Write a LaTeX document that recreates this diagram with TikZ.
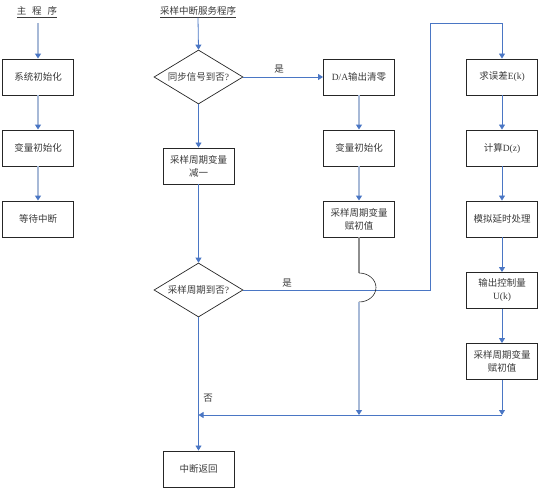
\documentclass[tikz,border=0pt]{standalone}
\usepackage{fontspec}
\setmainfont{Liberation Serif}
\newfontfamily\cjkfont{Noto Sans CJK SC}
\newcommand\zhtxt[1]{{\cjkfont #1}}
\usetikzlibrary{arrows.meta,shapes.geometric}
\definecolor{dblue}{HTML}{4A76C4}
\definecolor{lblue}{HTML}{A7B9D7}
\definecolor{gline}{HTML}{8E8E8E}
\definecolor{txt}{HTML}{3A3A3A}
\tikzset{
  x=1pt,y=-1pt,
  stepbox/.style={draw=black!85, line width=0.9pt, minimum width=71pt, minimum height=36pt,
    align=center, inner sep=1pt, text=txt, font=\fontsize{9.5}{13}\selectfont},
  decide/.style={diamond, draw=black!85, line width=0.7pt, minimum width=89pt, minimum height=54pt,
    aspect=1.65, inner sep=0pt, text=txt, font=\fontsize{9.5}{12}\selectfont},
  lbl/.style={text=txt, font=\fontsize{9.5}{12}\selectfont, inner sep=0pt},
  tip/.style={-{Triangle[width=6pt,length=5pt,color=dblue]}},
  dk/.style={draw=dblue, line width=0.8pt},
  lt/.style={draw=lblue, line width=1.8pt},
}
\begin{document}
\begin{tikzpicture}
\useasboundingbox (0,0) rectangle (540,489);
% titles
\node[lbl] (t1) at (37,12) {\underline{\zhtxt{主\hspace{6pt}程\hspace{6pt}序}}};
\node[lbl] (t2) at (198,12) {\underline{\zhtxt{采样中断服务程序}}};
% left column
\coordinate (c0) at (38,23);
\node[stepbox] (a1) at (38,77) {\zhtxt{系统初始化}};
\node[stepbox] (a2) at (38,148) {\zhtxt{变量初始化}};
\node[stepbox] (a3) at (38,219) {\zhtxt{等待中断}};
\draw[lt,tip] (c0) -- (a1.north);
\draw[lt,tip] (a1) -- (a2);
\draw[lt,tip] (a2) -- (a3);
% second column
\node[decide] (d1) at (198.5,77) {\zhtxt{同步信号到否}?};
\node[stepbox] (b1) at (198.5,166) {\zhtxt{采样周期变量}\\\zhtxt{减一}};
\node[decide] (d2) at (198.5,290) {\zhtxt{采样周期到否}?};
\node[stepbox] (b2) at (198.5,469) {\zhtxt{中断返回}};
\draw[dk,tip] (t2.south) -- (d1.north);
\draw[dk,tip] (d1) -- (b1);
\draw[dk,tip] (b1) -- (d2);
\draw[dk,tip] (d2) -- (b2);
% third column
\node[stepbox] (c1) at (359,77) {D/A\zhtxt{输出清零}};
\node[stepbox] (c2) at (359,148) {\zhtxt{变量初始化}};
\node[stepbox] (c3) at (359,219) {\zhtxt{采样周期变量}\\\zhtxt{赋初值}};
\draw[dk,tip] (d1.east) -- node[lbl, above, pos=0.45, yshift=3pt] {\zhtxt{是}} (c1.west);
\draw[lt,tip] (c1) -- (c2);
\draw[lt,tip] (c2) -- (c3);
% fourth column
\node[stepbox] (e1) at (502,77) {\zhtxt{求误差}E(k)};
\node[stepbox] (e2) at (502,148) {\zhtxt{计算}D(z)};
\node[stepbox] (e3) at (502,219) {\zhtxt{模拟延时处理}};
\node[stepbox] (e4) at (502,290.5) {\zhtxt{输出控制量}\\U(k)};
\node[stepbox] (e5) at (502,361.5) {\zhtxt{采样周期变量}\\\zhtxt{赋初值}};
\draw[dk,tip] (e1) -- (e2);
\draw[dk,tip] (e2) -- (e3);
\draw[dk,tip] (e3) -- (e4);
\draw[dk,tip] (e4) -- (e5);
% loop from d2 to e1
\coordinate (p1) at (430,290);
\coordinate (p2) at (430,23);
\coordinate (p3) at (502,23);
\draw[dk,tip] (d2.east) -- (p1) -- (p2) -- (p3) -- (e1.north);
\node[lbl] (yes2) at (287,283) {\zhtxt{是}};
% jump over
\coordinate (j1) at (359,273);
\coordinate (j2) at (359,302);
\coordinate (m1) at (359,415);
\coordinate (m2) at (198.5,415);
\coordinate (m3) at (502,415);
\draw[draw=gline, line width=1.8pt] (c3.south) -- (j1);
\draw[black!85, line width=0.6pt] (j1) arc[start angle=90, end angle=-90, x radius=17pt, y radius=14.5pt];
\draw[lt,tip] (j2) -- (m1);
\draw[dk,tip] (e5.south) -- (m3);
\draw[dk,tip] (m3) -- (m2);
\node[lbl] (no) at (208,398) {\zhtxt{否}};
\end{tikzpicture}
\end{document}
